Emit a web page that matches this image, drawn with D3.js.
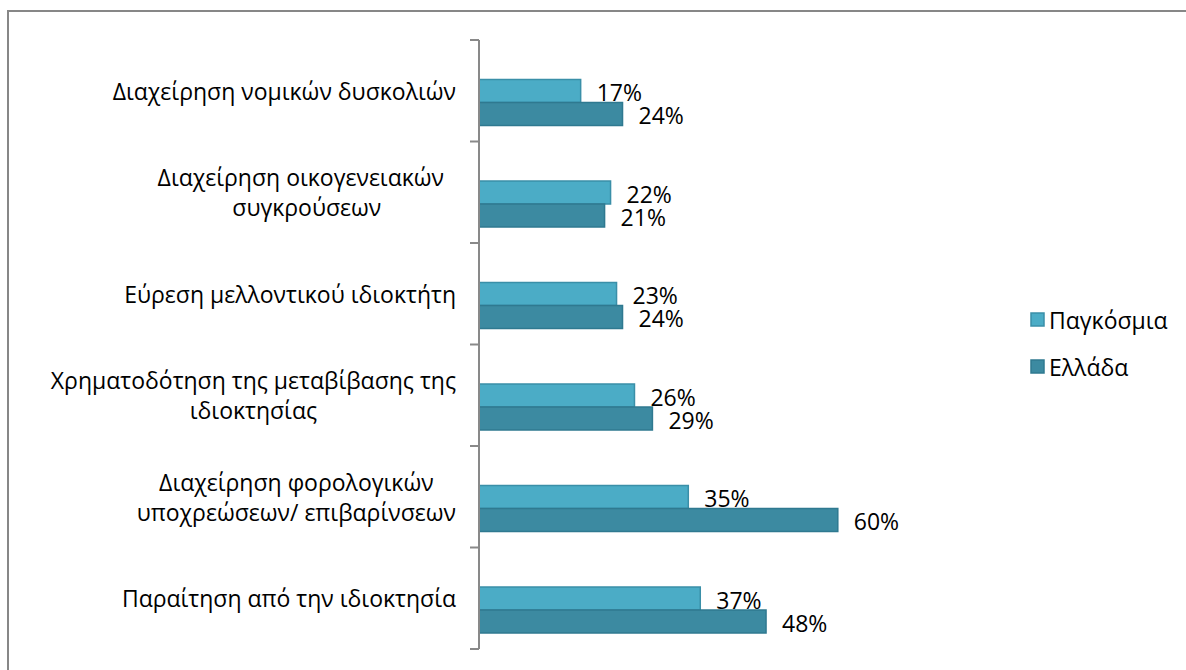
<!DOCTYPE html>
<html>
<head>
<meta charset="utf-8">
<script src="https://cdn.jsdelivr.net/npm/d3@7/dist/d3.min.js"></script>
<style>
  html, body { margin: 0; padding: 0; background: #fff; }
  svg { display: block; }
  text { font-family: "Open Sans", "Noto Sans", sans-serif; fill: #000; }
</style>
</head>
<body>
<svg id="chart" width="1186" height="670"></svg>
<script>
// Category labels (each entry holds the wrapped lines of one label)
const categories = [
  ["Διαχείρηση νομικών δυσκολιών"],
  ["Διαχείρηση οικογενειακών  ", "συγκρούσεων"],
  ["Εύρεση μελλοντικού ιδιοκτήτη"],
  ["Χρηματοδότηση της μεταβίβασης της", "ιδιοκτησίας"],
  ["Διαχείρηση φορολογικών", "υποχρεώσεων/ επιβαρίνσεων"],
  ["Παραίτηση από την ιδιοκτησία"]
];
const seriesNames = ["Παγκόσμια", "Ελλάδα"];
const globalValues = [0.17, 0.22, 0.23, 0.26, 0.35, 0.37];
const greeceValues = [0.24, 0.21, 0.24, 0.29, 0.60, 0.48];
const seriesValues = [globalValues, greeceValues];
const colors = ["#4BACC6", "#3C8AA1"];
const strokes = ["#3A8FA8", "#2F7990"];

const svg = d3.select("#chart");
const fontSize = 23;

// Outer chart frame
svg.append("rect")
  .attr("x", 8).attr("y", 11)
  .attr("width", 1200).attr("height", 700)
  .attr("fill", "none")
  .attr("stroke", "#878787")
  .attr("stroke-width", 2);

const idx = d3.range(categories.length);
const y = d3.scaleBand().domain(idx).range([40, 649]).paddingInner(0).paddingOuter(0);
const ySeries = d3.scaleBand().domain(d3.range(seriesNames.length)).range([39.5, 85.5]);
const x = d3.scaleLinear().domain([0, 1]).range([479, 1077]);

// Bars
const groups = svg.append("g").selectAll("g")
  .data(idx).join("g")
  .attr("transform", i => `translate(0,${y(i)})`);

groups.selectAll("rect")
  .data(i => seriesValues.map((vals, s) => ({ s, v: vals[i] })))
  .join("rect")
  .attr("x", x(0))
  .attr("y", d => ySeries(d.s))
  .attr("width", d => x(d.v) - x(0))
  .attr("height", ySeries.bandwidth())
  .attr("fill", d => colors[d.s])
  .attr("stroke", d => strokes[d.s])
  .attr("stroke-width", 1.5);

// Value labels
groups.selectAll("text.val")
  .data(i => seriesValues.map((vals, s) => ({ s, v: vals[i] })))
  .join("text")
  .attr("class", "val")
  .attr("x", d => x(d.v) + 16)
  .attr("y", d => ySeries(d.s) + ySeries.bandwidth() / 2 + 1)
  .attr("dominant-baseline", "central")
  .style("font-size", fontSize + "px")
  .text(d => d3.format(".0%")(d.v));

// Category axis with ticks at band boundaries
const axis = svg.append("g").attr("stroke", "#898989").attr("stroke-width", 2);
axis.append("line")
  .attr("x1", x(0)).attr("x2", x(0))
  .attr("y1", y.range()[0]).attr("y2", y.range()[1]);
axis.selectAll("line.tick")
  .data(d3.range(categories.length + 1))
  .join("line")
  .attr("class", "tick")
  .attr("x1", x(0) - 9).attr("x2", x(0))
  .attr("y1", i => i < categories.length ? y(i) : y.range()[1])
  .attr("y2", i => i < categories.length ? y(i) : y.range()[1]);

// Category labels: lines centered within a block right-aligned next to the axis
const labelRight = 456;
const lineHeight = 30;
categories.forEach((lines, i) => {
  const cy = y(i) + y.bandwidth() / 2;
  const t = svg.append("text")
    .style("font-size", fontSize + "px")
    .style("white-space", "pre")
    .attr("text-anchor", "middle");
  const spans = lines.map((ln, k) =>
    t.append("tspan")
      .attr("y", cy + (k - (lines.length - 1) / 2) * lineHeight)
      .attr("dominant-baseline", "central")
      .text(ln));
  const w = d3.max(spans, s => s.node().getComputedTextLength());
  spans.forEach(s => s.attr("x", labelRight - w / 2));
});

// Legend
const legend = svg.append("g").attr("transform", "translate(1031,313)");
seriesNames.forEach((name, s) => {
  const g = legend.append("g").attr("transform", `translate(0,${s * 47})`);
  g.append("rect")
    .attr("width", 13).attr("height", 13)
    .attr("fill", colors[s])
    .attr("stroke", strokes[s])
    .attr("stroke-width", 1.5);
  g.append("text")
    .attr("x", 18).attr("y", 7)
    .attr("dominant-baseline", "central")
    .style("font-size", fontSize + "px")
    .text(name);
});
</script>
</body>
</html>
